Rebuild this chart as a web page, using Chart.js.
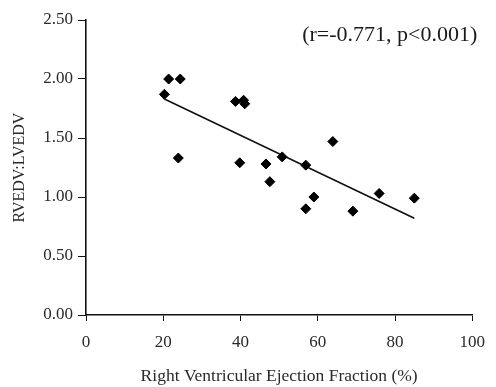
<!DOCTYPE html>
<html>
<head>
  <title>RVEDV:LVEDV vs RVEF</title>
  <script src="https://cdn.jsdelivr.net/npm/chart.js"></script>
  <style>
    html, body {
      margin: 0;
      padding: 0;
      background: #fff;
    }
    #wrap {
      width: 496px;
      height: 387px;
    }
  </style>
</head>
<body>
  <div id="wrap"><canvas id="scatterChart"></canvas></div>

  <script>
    // values
    const rvef = [20.3, 21.4, 24.4, 23.9, 38.7, 40.8, 41.1, 39.8, 46.6, 47.6, 50.8, 56.9, 63.9, 59.0, 56.9, 69.1, 75.9, 85.0];
    const ratio = [1.87, 2.00, 2.00, 1.33, 1.81, 1.82, 1.79, 1.29, 1.28, 1.13, 1.34, 1.27, 1.47, 1.00, 0.90, 0.88, 1.03, 0.99];
    const fitX = [20.3, 85.0];
    const fitY = [1.83, 0.82];
    const xTicks = [0, 20, 40, 60, 80, 100];
    const yTicks = [0, 0.5, 1.0, 1.5, 2.0, 2.5];
    const statsText = "(r=-0.771, p<0.001)";

    const serif = "'Liberation Serif', 'Times New Roman', serif";

    const points = rvef.map((x, i) => ({ x: x, y: ratio[i] }));
    const fitLine = fitX.map((x, i) => ({ x: x, y: fitY[i] }));

    // draws the r / p annotation at the top right of the plot
    const statsLabel = {
      id: 'statsLabel',
      afterDraw(chart) {
        const ctx = chart.ctx;
        const area = chart.chartArea;
        ctx.save();
        ctx.font = "22px " + serif;
        ctx.fillStyle = "#1a1a1a";
        ctx.textAlign = "right";
        ctx.textBaseline = "middle";
        ctx.fillText(statsText, area.right + 5, area.top + 15);
        ctx.restore();
      }
    };

    new Chart(document.getElementById('scatterChart').getContext('2d'), {
      type: 'scatter',
      data: {
        datasets: [
          {
            label: 'Patients',
            data: points,
            pointStyle: 'rectRot',
            pointRadius: 5,
            pointBackgroundColor: '#000',
            pointBorderColor: '#000',
            pointBorderWidth: 1
          },
          {
            label: 'Fit',
            data: fitLine,
            showLine: true,
            borderColor: '#111',
            borderWidth: 1.6,
            pointRadius: 0,
            fill: false
          }
        ]
      },
      options: {
        responsive: true,
        maintainAspectRatio: false,
        animation: false,
        layout: {
          padding: { top: 20, right: 15, left: 0, bottom: 0 }
        },
        plugins: {
          legend: { display: false },
          tooltip: { enabled: false }
        },
        scales: {
          x: {
            type: 'linear',
            min: 0,
            max: 100,
            afterBuildTicks(scale) {
              scale.ticks = xTicks.map(v => ({ value: v }));
            },
            afterFit(scale) {
              scale.height = 72;
            },
            grid: {
              drawOnChartArea: false,
              drawTicks: true,
              tickLength: 6,
              color: '#111'
            },
            border: { display: true, color: '#111', width: 1.6 },
            ticks: {
              color: '#2a2a2a',
              padding: 11,
              maxRotation: 0,
              font: { family: serif, size: 17 }
            },
            title: {
              display: true,
              text: 'Right Ventricular Ejection Fraction (%)',
              color: '#2a2a2a',
              padding: 0,
              font: { family: serif, size: 17.5 }
            }
          },
          y: {
            type: 'linear',
            min: 0,
            max: 2.5,
            afterBuildTicks(scale) {
              scale.ticks = yTicks.map(v => ({ value: v }));
            },
            afterFit(scale) {
              scale.width = 86;
            },
            grid: {
              drawOnChartArea: false,
              drawTicks: true,
              tickLength: 8,
              color: '#111'
            },
            border: { display: true, color: '#111', width: 1.6 },
            ticks: {
              color: '#2a2a2a',
              padding: 5,
              font: { family: serif, size: 17 },
              callback: v => Number(v).toFixed(2)
            },
            title: {
              display: true,
              text: 'RVEDV:LVEDV',
              color: '#2a2a2a',
              padding: { top: 10, bottom: 0 },
              font: { family: serif, size: 16 }
            }
          }
        }
      },
      plugins: [statsLabel]
    });
  </script>
</body>
</html>
